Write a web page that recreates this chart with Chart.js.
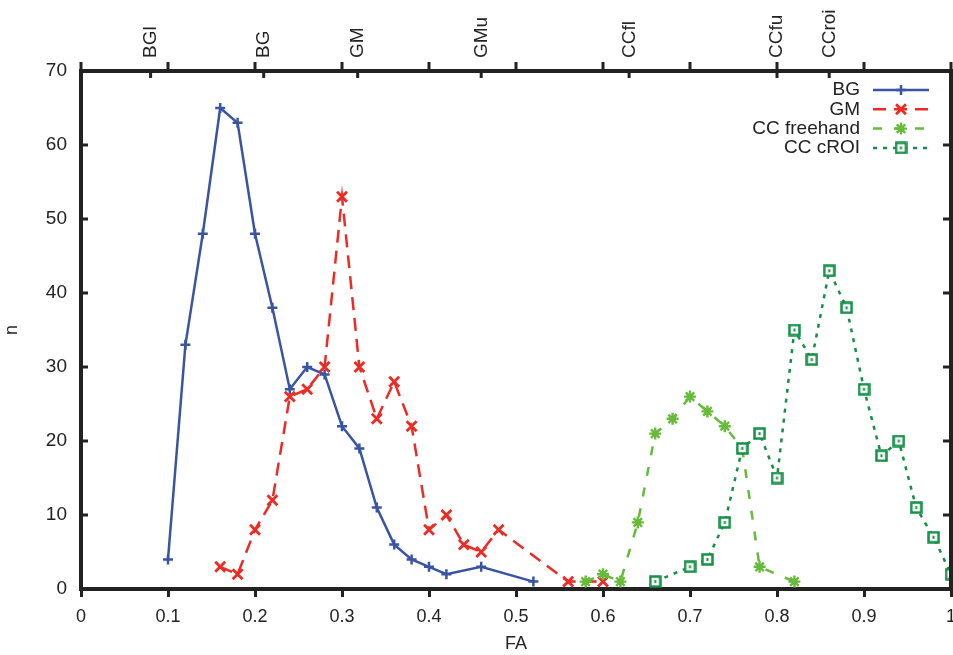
<!DOCTYPE html>
<html>
<head>
<meta charset="utf-8">
<script src="https://cdn.jsdelivr.net/npm/chart.js@4/dist/chart.umd.min.js"></script>
<style>
  html, body { margin: 0; padding: 0; background: #fff; }
</style>
</head>
<body>
<canvas id="chart" width="953" height="655"></canvas>
<script>
// FA histograms, counts per 0.02 bin
const bgFA = [0.10, 0.12, 0.14, 0.16, 0.18, 0.20, 0.22, 0.24, 0.26, 0.28, 0.30, 0.32, 0.34, 0.36, 0.38, 0.40, 0.42, 0.46, 0.52];
const bgN  = [4, 33, 48, 65, 63, 48, 38, 27, 30, 29, 22, 19, 11, 6, 4, 3, 2, 3, 1];

const gmFA = [0.16, 0.18, 0.20, 0.22, 0.24, 0.26, 0.28, 0.30, 0.32, 0.34, 0.36, 0.38, 0.40, 0.42, 0.44, 0.46, 0.48, 0.56, 0.60];
const gmN  = [3, 2, 8, 12, 26, 27, 30, 53, 30, 23, 28, 22, 8, 10, 6, 5, 8, 1, 1];

const ccfFA = [0.58, 0.60, 0.62, 0.64, 0.66, 0.68, 0.70, 0.72, 0.74, 0.76, 0.78, 0.82];
const ccfN  = [1, 2, 1, 9, 21, 23, 26, 24, 22, 19, 3, 1];

const ccrFA = [0.66, 0.70, 0.72, 0.74, 0.76, 0.78, 0.80, 0.82, 0.84, 0.86, 0.88, 0.90, 0.92, 0.94, 0.96, 0.98, 1.00];
const ccrN  = [1, 3, 4, 9, 19, 21, 15, 35, 31, 43, 38, 27, 18, 20, 11, 7, 2];

// threshold markers on the top axis
const topTickPos    = [0.08, 0.21, 0.318, 0.46, 0.63, 0.80, 0.86];
const topTickLabels = ['BGl', 'BG', 'GM', 'GMu', 'CCfl', 'CCfu', 'CCroi'];

const xTickVals = [0, 0.1, 0.2, 0.3, 0.4, 0.5, 0.6, 0.7, 0.8, 0.9, 1];
const yTickVals = [0, 10, 20, 30, 40, 50, 60, 70];

const FONT = 'Liberation Sans, Arial, Helvetica, sans-serif';
const AXIS = '#222';

function pts(xs, ys) {
    return xs.map((x, i) => ({ x: x, y: ys[i] }));
}

// open square with a dot, like gnuplot's point type
function squareDot(color) {
    const c = document.createElement('canvas');
    c.width = 13;
    c.height = 13;
    const g = c.getContext('2d');
    g.fillStyle = '#fff';
    g.fillRect(1, 1, 11, 11);
    g.strokeStyle = color;
    g.lineWidth = 2.5;
    g.strokeRect(1.5, 1.5, 10, 10);
    g.fillStyle = color;
    g.fillRect(5.5, 5, 2, 3);
    return c;
}

const series = [
    { label: 'BG', data: pts(bgFA, bgN), color: '#3a54a4', dash: [], style: 'cross', radius: 5, bw: 2.5 },
    { label: 'GM', data: pts(gmFA, gmN), color: '#ee2a24', dash: [13, 8], style: 'crossRot', radius: 7, bw: 2.8 },
    { label: 'CC freehand', data: pts(ccfFA, ccfN), color: '#66bb3a', dash: [9, 12], style: 'star', radius: 6, bw: 2.4 },
    { label: 'CC cROI', data: pts(ccrFA, ccrN), color: '#149046', dash: [4, 6], style: squareDot('#149046'), radius: 7, bw: 2.5 }
];

// gnuplot-like legend: text right aligned, then the sample line
const keyPlugin = {
    id: 'key',
    afterDraw(chart) {
        const ctx = chart.ctx;
        ctx.save();
        series.forEach((s, i) => {
            const y = 90 + i * 19.3;
            ctx.font = '19px ' + FONT;
            ctx.fillStyle = AXIS;
            ctx.textAlign = 'right';
            ctx.textBaseline = 'middle';
            ctx.fillText(s.label, 860, y);
            ctx.strokeStyle = s.color;
            ctx.lineWidth = 2.5;
            ctx.setLineDash(s.dash);
            ctx.beginPath();
            ctx.moveTo(873, y);
            ctx.lineTo(929, y);
            ctx.stroke();
            ctx.setLineDash([]);
            ctx.fillStyle = s.color;
            ctx.lineWidth = s.bw;
            Chart.helpers.drawPoint(ctx, { pointStyle: s.style, radius: s.radius, borderWidth: s.bw, rotation: 0 }, 901, y);
        });
        ctx.restore();
    }
};

// border ticks the axes can't draw on their own
const framePlugin = {
    id: 'frame',
    afterDraw(chart) {
        const ctx = chart.ctx;
        const a = chart.chartArea;
        const x = chart.scales.x;
        const y = chart.scales.y;
        ctx.save();
        ctx.strokeStyle = AXIS;
        ctx.lineWidth = 3;
        ctx.beginPath();
        xTickVals.forEach(v => {
            const px = x.getPixelForValue(v);
            ctx.moveTo(px, a.top);
            ctx.lineTo(px, a.top - 9);
        });
        topTickPos.forEach(v => {
            const px = x.getPixelForValue(v);
            ctx.moveTo(px, a.top);
            ctx.lineTo(px, a.top + 7);
        });
        yTickVals.forEach(v => {
            const py = y.getPixelForValue(v);
            ctx.moveTo(a.left, py);
            ctx.lineTo(a.left + 7, py);
            ctx.moveTo(a.right, py);
            ctx.lineTo(a.right - 8, py);
        });
        ctx.stroke();
        ctx.lineWidth = 4;
        ctx.beginPath();
        ctx.moveTo(a.right, a.top - 2);
        ctx.lineTo(a.right, a.bottom + 2);
        ctx.stroke();
        ctx.restore();
    }
};

new Chart(document.getElementById('chart'), {
    type: 'line',
    data: {
        datasets: series.map((s, i) => ({
            label: s.label,
            data: s.data,
            borderColor: s.color,
            backgroundColor: s.color,
            borderWidth: 2.5,
            borderDash: s.dash,
            pointStyle: s.style,
            pointRadius: s.radius,
            pointBorderWidth: s.bw,
            pointBorderColor: s.color,
            pointBackgroundColor: s.color,
            tension: 0,
            fill: false,
            order: series.length - i
        }))
    },
    options: {
        responsive: false,
        animation: false,
        devicePixelRatio: 1,
        layout: { autoPadding: false, padding: { left: 0, right: 2, top: 0, bottom: 0 } },
        plugins: {
            legend: { display: false },
            tooltip: { enabled: false }
        },
        scales: {
            x: {
                type: 'linear',
                position: 'bottom',
                min: 0,
                max: 1,
                ticks: {
                    stepSize: 0.1,
                    color: AXIS,
                    font: { family: FONT, size: 18 },
                    padding: 9,
                    maxRotation: 0,
                    callback: v => String(Number(v.toFixed(1)))
                },
                grid: { drawOnChartArea: false, drawTicks: true, tickLength: 8, tickWidth: 3, tickColor: AXIS },
                border: { display: true, width: 4, color: AXIS },
                title: { display: true, text: 'FA', color: AXIS, font: { family: FONT, size: 18 }, padding: { top: 0, bottom: 0 } },
                afterFit(s) { s.height = 66; s.paddingLeft = 0; s.paddingRight = 0; }
            },
            x2: {
                type: 'linear',
                position: 'top',
                min: 0,
                max: 1,
                afterBuildTicks(s) { s.ticks = topTickPos.map(v => ({ value: v })); },
                ticks: {
                    autoSkip: false,
                    minRotation: 90,
                    maxRotation: 90,
                    padding: 13,
                    labelOffset: 23,
                    color: AXIS,
                    font: { family: FONT, size: 19 },
                    callback: (v, i) => topTickLabels[i]
                },
                grid: { drawOnChartArea: false, drawTicks: false },
                border: { display: true, width: 4, color: AXIS },
                afterFit(s) { s.height = 71; s.paddingLeft = 0; s.paddingRight = 0; }
            },
            y: {
                min: 0,
                max: 70,
                ticks: { stepSize: 10, color: AXIS, font: { family: FONT, size: 19 }, padding: 14 },
                grid: { drawOnChartArea: false, drawTicks: false },
                border: { display: true, width: 4, color: AXIS },
                title: { display: true, text: 'n', color: AXIS, font: { family: FONT, size: 18 }, padding: { top: 1, bottom: 0 } },
                afterFit(s) { s.width = 81; }
            }
        }
    },
    plugins: [framePlugin, keyPlugin]
});
</script>
</body>
</html>
